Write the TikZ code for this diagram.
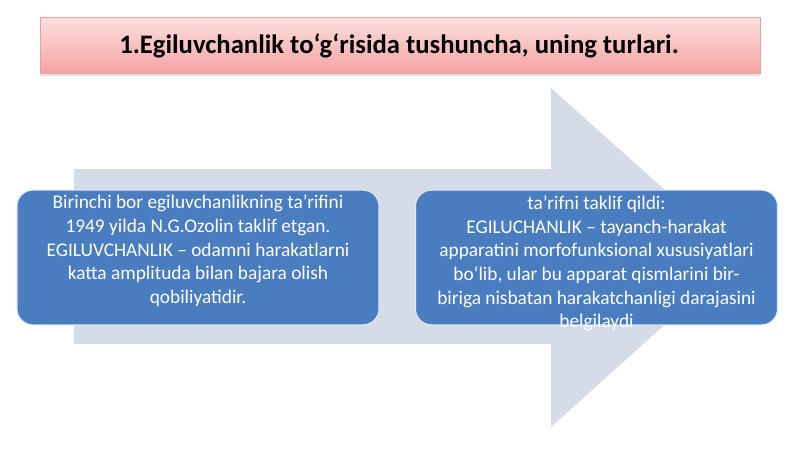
\documentclass[tikz,border=0pt]{standalone}
\usepackage{fontspec}
\setmainfont{Carlito}
\usetikzlibrary{shadows,calc}
\definecolor{arrowgrey}{HTML}{D6DCE7}
\definecolor{boxblue}{HTML}{4A7DC0}
\definecolor{boxedge}{HTML}{DCE6F4}
\definecolor{pinktop}{HTML}{FCE0E0}
\definecolor{pinkbot}{HTML}{F4A3A3}
\definecolor{pinkedge}{HTML}{E9A0A0}
\tikzset{
  titlebox/.style={draw=pinkedge, line width=0.6pt, top color=pinktop, bottom color=pinkbot,
    minimum width=540pt, minimum height=42pt, inner sep=0pt,
    drop shadow={shadow xshift=0pt, shadow yshift=-2pt, opacity=0.25}},
  bluebox/.style={draw=boxedge, line width=0.8pt, fill=boxblue, rounded corners=12pt,
    minimum width=271.5pt, minimum height=101pt, inner sep=0pt},
  boxtext/.style={text=white, align=center, font=\fontsize{14.5}{17.8}\selectfont, inner sep=0pt},
}
\begin{document}
\begin{tikzpicture}[x=0.75pt,y=-0.75pt]
\useasboundingbox (0,0) rectangle (800,450);
\fill[white] (0,0) rectangle (800,450);
% big background arrow
\fill[arrowgrey] (74,169) -- (551,169) -- (551,88) -- (740,257) -- (551,427) -- (551,344) -- (74,344) -- cycle;
% title
\node[titlebox] (title) at (400,45) {};
\node[font=\bfseries\fontsize{20}{23}\selectfont, text=black] (titletext) at (399,46) {1.Egiluvchanlik to‘g‘risida tushuncha, uning turlari.};
% boxes
\node[bluebox] (left) at (198,257.5) {};
\node[bluebox] (right) at (596.5,257.5) {};
\node[boxtext] (lefttext) at (198,251) {Birinchi bor egiluvchanlikning ta’rifini\\1949 yilda N.G.Ozolin taklif etgan.\\EGILUVCHANLIK – odamni harakatlarni\\katta amplituda bilan bajara olish\\qobiliyatidir.};
\node[boxtext] (righttext) at (596.5,263.5) {ta’rifni taklif qildi:\\EGILUCHANLIK – tayanch-harakat\\apparatini morfofunksional xususiyatlari\\bo‘lib, ular bu apparat qismlarini bir-\\biriga nisbatan harakatchanligi darajasini\\belgilaydi};
\end{tikzpicture}
\end{document}
